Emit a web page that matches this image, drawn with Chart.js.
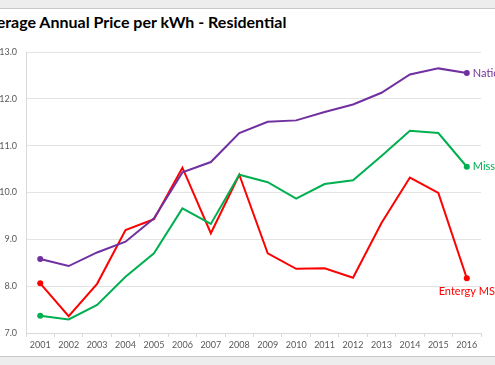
<!DOCTYPE html>
<html>
<head>
<meta charset="utf-8">
<script src="https://cdn.jsdelivr.net/npm/chart.js@4"></script>
<style>
  html, body { margin: 0; padding: 0; background: #fff; overflow: hidden; }
  #wrap { position: relative; width: 495px; height: 365px; }
  .band { position: absolute; left: 0; width: 495px; background: #ededed; }
  #top { top: 0; height: 8px; border-bottom: 1px solid #c8c8c8; }
  #bottom { top: 356px; height: 9px; border-top: 1px solid #c8c8c8; }
  #title { position: absolute; top: 12px; left: -22px; white-space: nowrap;
           font: bold 16px Lato, "Open Sans", sans-serif; color: #000; }
  canvas { position: absolute; left: 0; top: 0; }
</style>
</head>
<body>
<div id="wrap">
  <div class="band" id="top"></div>
  <div class="band" id="bottom"></div>
  <div id="title">Average Annual Price per kWh - Residential</div>
  <canvas id="priceChart" width="495" height="365"></canvas>
</div>
<script>
// chart data
const years = ['2001','2002','2003','2004','2005','2006','2007','2008','2009','2010','2011','2012','2013','2014','2015','2016'];
const national    = [8.58, 8.43, 8.72, 8.95, 9.45, 10.43, 10.65, 11.27, 11.51, 11.54, 11.72, 11.88, 12.13, 12.52, 12.65, 12.55];
const mississippi = [7.37, 7.29, 7.60, 8.20, 8.70, 9.66, 9.33, 10.38, 10.22, 9.87, 10.18, 10.26, 10.78, 11.32, 11.27, 10.55];
const entergy     = [8.06, 7.36, 8.05, 9.20, 9.43, 10.53, 9.13, 10.38, 8.70, 8.37, 8.38, 8.18, 9.35, 10.32, 9.99, 8.17];
const seriesNames = ['National', 'Mississippi', 'Entergy MS'];
const yMin = 7, yMax = 13, yStep = 1;

const colors = ['#7030A0', '#00B050', '#FF0000'];
const font = 'Lato, "Open Sans", sans-serif';

// markers only on first and last points
function endRadius(ctx) {
    const i = ctx.dataIndex;
    return (i === 0 || i === years.length - 1) ? 3 : 0;
}

function makeSet(label, data, color) {
    return {
        label: label,
        data: data,
        borderColor: color,
        backgroundColor: color,
        borderWidth: 2,
        tension: 0,
        pointRadius: endRadius,
        pointHoverRadius: endRadius,
        pointBorderWidth: 0
    };
}

// end labels next to the last point of each line
const endLabels = {
    id: 'endLabels',
    afterDatasetsDraw(chart) {
        const c = chart.ctx;
        c.save();
        c.font = '11px ' + font;
        c.textBaseline = 'middle';
        chart.data.datasets.forEach((ds, i) => {
            const meta = chart.getDatasetMeta(i);
            const pt = meta.data[meta.data.length - 1];
            c.fillStyle = ds.borderColor;
            if (i === 2) {
                c.textAlign = 'center';
                c.fillText(ds.label, pt.x, pt.y + 13);
            } else {
                c.textAlign = 'left';
                c.fillText(ds.label, pt.x + 6, pt.y);
            }
        });
        c.restore();
    }
};

new Chart(document.getElementById('priceChart'), {
    type: 'line',
    data: {
        labels: years,
        datasets: [
            makeSet(seriesNames[0], national, colors[0]),
            makeSet(seriesNames[1], mississippi, colors[1]),
            makeSet(seriesNames[2], entergy, colors[2])
        ]
    },
    options: {
        responsive: false,
        animation: false,
        layout: { padding: { top: 52, right: 14, bottom: 12, left: 0 } },
        plugins: { legend: { display: false }, tooltip: { enabled: false } },
        scales: {
            x: {
                offset: true,
                grid: { offset: true, drawOnChartArea: false, drawTicks: true, tickLength: 4, color: '#d9d9d9' },
                border: { color: '#d9d9d9' },
                ticks: { color: '#595959', font: { family: font, size: 9 }, padding: 3, maxRotation: 0, autoSkip: false },
                afterFit(scale) { scale.height = 20; }
            },
            y: {
                min: yMin,
                max: yMax,
                grid: { color: '#e3e3e3', drawTicks: false },
                border: { color: '#d9d9d9' },
                ticks: {
                    stepSize: yStep,
                    color: '#595959',
                    font: { family: font, size: 9 },
                    padding: 9,
                    callback: v => v.toFixed(1)
                },
                afterFit(scale) { scale.width = 26; }
            }
        }
    },
    plugins: [endLabels]
});
</script>
</body>
</html>
